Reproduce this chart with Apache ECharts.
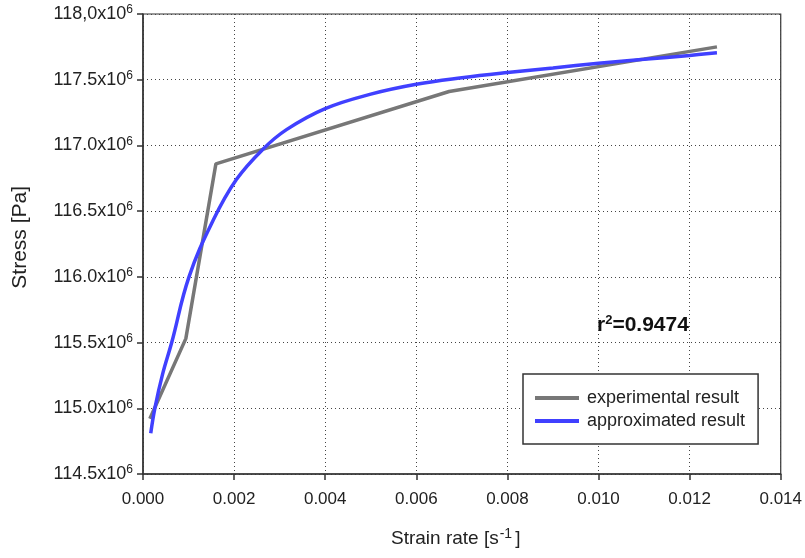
<!DOCTYPE html>
<html>
<head>
<meta charset="utf-8">
<script src="https://cdn.jsdelivr.net/npm/echarts@6/dist/echarts.min.js"></script>
<style>
  html, body { margin: 0; padding: 0; background: #fff; }
  #chart { width: 805px; height: 558px; }
</style>
</head>
<body>
<div id="chart"></div>
<script>
// stress in units of 10^6 Pa, strain rate in 1/s
var expRate   = [0.00015, 0.00094, 0.00160, 0.00672, 0.01260];
var expStress = [114.92, 115.53, 116.86, 117.41, 117.75];

var fitRate   = [0.00017, 0.00026, 0.00043, 0.00063, 0.00101, 0.00154, 0.00205, 0.00263, 0.00315,
                 0.0040, 0.0050, 0.0060, 0.0070, 0.0080, 0.0090, 0.0100, 0.0110, 0.0120, 0.0126];
var fitStress = [114.81, 115.00, 115.26, 115.50, 116.00, 116.43, 116.74, 116.97, 117.12,
                 117.28, 117.39, 117.465, 117.515, 117.555, 117.59, 117.625, 117.655, 117.685, 117.705];

var yTickLabels = {'118': '118,0', '117.5': '117.5', '117': '117.0', '116.5': '116.5', '116': '116.0',
                   '115.5': '115.5', '115': '115.0', '114.5': '114.5'};
var r2Text = '0.9474';

function pairs(xs, ys) {
    var out = [];
    for (var i = 0; i < xs.length; i++) out.push([xs[i], ys[i]]);
    return out;
}

var myChart = echarts.init(document.getElementById('chart'));
var font = 'Liberation Sans, Arial, sans-serif';
var dotted = { color: '#444', width: 1, type: [1, 3] };

var option = {
    animation: false,
    textStyle: { fontFamily: font },
    grid: { left: 143, right: 23, top: 14, bottom: 84, show: true, borderColor: '#333', borderWidth: 1.2 },
    xAxis: {
        type: 'value', min: 0, max: 0.014, interval: 0.002,
        axisLine: { show: true, onZero: false, lineStyle: { color: '#333', width: 1.5 } },
        axisTick: { show: true, length: 6, lineStyle: { color: '#333', width: 1.5 } },
        axisLabel: { color: '#222', fontSize: 17, margin: 17, formatter: function (v) { return v.toFixed(3); } },
        splitLine: { show: true, lineStyle: dotted }
    },
    yAxis: {
        type: 'value', min: 114.5, max: 118, interval: 0.5,
        axisLine: { show: true, onZero: false, lineStyle: { color: '#333', width: 1.5 } },
        axisTick: { show: true, length: 6, lineStyle: { color: '#333', width: 1.5 } },
        axisLabel: {
            color: '#222', margin: 10,
            formatter: function (v) { return '{a|' + yTickLabels[String(v)] + 'x10}{s|6}'; },
            rich: {
                a: { fontSize: 18, color: '#222', fontFamily: font },
                s: { fontSize: 12, color: '#222', fontFamily: font, padding: [0, 0, 8, 0] }
            }
        },
        splitLine: { show: true, lineStyle: dotted }
    },
    legend: {
        orient: 'vertical', left: 523, top: 374,
        padding: [14, 13, 13, 12], itemGap: 3,
        borderColor: '#333', borderWidth: 1.5, backgroundColor: '#fff',
        icon: 'rect', itemWidth: 44, itemHeight: 4,
        textStyle: { fontSize: 18, color: '#222', lineHeight: 20, padding: [0, 0, 0, 3] },
        data: ['experimental result', 'approximated result']
    },
    series: [
        {
            name: 'experimental result', type: 'line', showSymbol: false,
            lineStyle: { color: '#777', width: 3.5 }, itemStyle: { color: '#777' },
            data: pairs(expRate, expStress)
        },
        {
            name: 'approximated result', type: 'line', showSymbol: false, smooth: 0.4,
            lineStyle: { color: '#4040ff', width: 3.5 }, itemStyle: { color: '#4040ff' },
            data: pairs(fitRate, fitStress)
        }
    ],
    graphic: [
        {
            type: 'text', left: 10, top: 186, rotation: Math.PI / 2,
            style: { text: 'Stress [Pa]', fontSize: 21, fill: '#222', fontFamily: font }
        },
        {
            type: 'text', left: 391, top: 527,
            style: {
                text: '{a|Strain rate [s}{s|-1}{a|]}',
                rich: {
                    a: { fontSize: 19, fill: '#222', fontFamily: font },
                    s: { fontSize: 14, fill: '#222', fontFamily: font, padding: [0, 3, 9, 1] }
                }
            }
        },
        {
            type: 'text', left: 597, top: 314,
            style: {
                text: '{a|r}{s|2}{a|=' + r2Text + '}',
                rich: {
                    a: { fontSize: 21, fontWeight: 'bold', fill: '#111', fontFamily: font },
                    s: { fontSize: 13, fontWeight: 'bold', fill: '#111', fontFamily: font, padding: [0, 0, 10, 0] }
                }
            }
        }
    ]
};
myChart.setOption(option);
</script>
</body>
</html>
